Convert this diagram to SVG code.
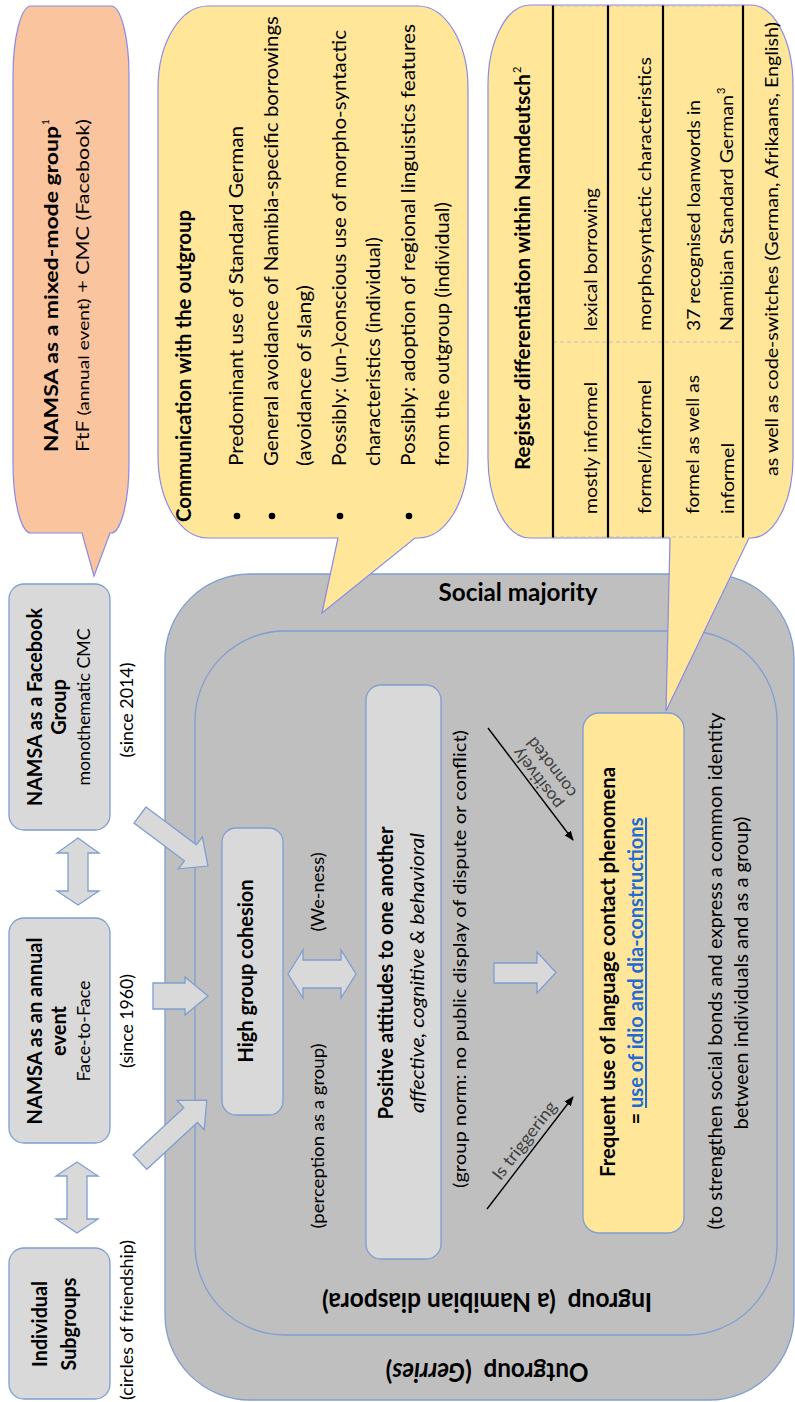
<svg xmlns="http://www.w3.org/2000/svg" width="795" height="1402" viewBox="0 0 795 1402">
<defs>
<style>
text { font-family: Lato, "Open Sans", "Liberation Sans", sans-serif; fill:#000; }
.b { font-weight:700; }
.it { font-style:italic; }
.box { fill:#D9D9D9; stroke:#7F9ED1; stroke-width:1.3; }
.grp { fill:#BFBFBF; stroke:#7F9ED1; stroke-width:1.3; }
.yel { fill:#FFE699; stroke:#8A8AE6; stroke-width:1.2; }
.org { fill:#F9C49E; stroke:#8A8AE6; stroke-width:1.2; }
.fre { fill:#FFE699; stroke:#7F9ED1; stroke-width:1.3; }
.blk { fill:#D9D9D9; stroke:#7F9ED1; stroke-width:1.3; }
.ln { stroke:#000; stroke-width:1.4; fill:none; marker-end:url(#ah); }
.tl { stroke:#000; stroke-width:2.2; }
.dl { stroke:#BDBDBD; stroke-width:1; stroke-dasharray:4 3; }
.gt { fill:#404040; }
.lnk { fill:#1F6BD6; text-decoration:underline; }
</style>
<marker id="ah" viewBox="0 0 10 10" refX="9" refY="5" markerWidth="7" markerHeight="7" orient="auto"><path d="M0,1 L10,5 L0,9 z" fill="#000"/></marker>
</defs>

<g id="outgroup">
<rect class="grp" x="165" y="574" width="629" height="826" rx="85" ry="85"/>
<text class="b" font-size="23" text-anchor="middle" transform="translate(487,1363) scale(1,1.12) rotate(180)" textLength="203" lengthAdjust="spacingAndGlyphs">Outgroup&#160; (<tspan class="it">Gerries</tspan>)</text>
<text class="b" font-size="24" text-anchor="middle" x="518" y="601" textLength="159" lengthAdjust="spacingAndGlyphs">Social majority</text>
</g>

<g id="ingroup">
<rect class="grp" x="195" y="631" width="582" height="704" rx="90" ry="90"/>
<text class="b" font-size="23" text-anchor="middle" transform="translate(487,1293) scale(1,1.12) rotate(180)" textLength="330" lengthAdjust="spacingAndGlyphs">Ingroup&#160; (a Namibian diaspora)</text>
</g>

<g id="callout-mixed">
<path class="org" d="M31,6 H111 A18 70 0 0 1 129,76 V463 A18 70 0 0 1 111,533 H110 L94,576 L82,533 H31 A18 70 0 0 1 13,463 V76 A18 70 0 0 1 31,6 Z"/>
<text class="b" font-size="18.5" transform="translate(58,452) rotate(-90)" textLength="326" lengthAdjust="spacingAndGlyphs">NAMSA as a mixed-mode group</text>
<text font-size="10" transform="translate(49,125) rotate(-90)">1</text>
<text font-size="18" transform="translate(89,452) rotate(-90)" textLength="333" lengthAdjust="spacingAndGlyphs">FtF <tspan font-size="16">(annual event)</tspan> + CMC (Facebook)</text>
</g>

<g id="callout-outgroup">
<path class="yel" d="M208,6 H418 A50 82 0 0 1 468,88 V456 A50 82 0 0 1 418,538 H415 L322,613 L338,538 H208 A50 82 0 0 1 158,456 V88 A50 82 0 0 1 208,6 Z"/>
<text class="b" font-size="20" transform="translate(191,522) rotate(-90)" textLength="312" lengthAdjust="spacingAndGlyphs">Communication with the outgroup</text>
<circle cx="237" cy="516" r="3.3"/>
<circle cx="272" cy="516" r="3.3"/>
<circle cx="340" cy="516" r="3.3"/>
<circle cx="409" cy="516" r="3.3"/>
<text font-size="18.5" transform="translate(243,466) rotate(-90)" textLength="340" lengthAdjust="spacingAndGlyphs">Predominant use of Standard German</text>
<text font-size="18.5" transform="translate(278,466) rotate(-90)" textLength="450" lengthAdjust="spacingAndGlyphs">General avoidance of Namibia-specific borrowings</text>
<text font-size="18.5" transform="translate(311,466) rotate(-90)" textLength="181" lengthAdjust="spacingAndGlyphs">(avoidance of slang)</text>
<text font-size="18.5" transform="translate(346,466) rotate(-90)" textLength="436" lengthAdjust="spacingAndGlyphs">Possibly: (un-)conscious use of morpho-syntactic</text>
<text font-size="18.5" transform="translate(380,466) rotate(-90)" textLength="229" lengthAdjust="spacingAndGlyphs">characteristics (individual)</text>
<text font-size="18.5" transform="translate(415,466) rotate(-90)" textLength="442" lengthAdjust="spacingAndGlyphs">Possibly: adoption of regional linguistics features</text>
<text font-size="18.5" transform="translate(449,466) rotate(-90)" textLength="264" lengthAdjust="spacingAndGlyphs">from the outgroup (individual)</text>
</g>

<g id="callout-register">
<path class="yel" d="M530,5 H751 A42 80 0 0 1 793,85 V458 A42 80 0 0 1 751,538 H749 L666,711 L670,538 H530 A42 80 0 0 1 488,458 V85 A42 80 0 0 1 530,5 Z"/>
<line class="dl" x1="553" y1="6" x2="743" y2="6"/>
<line class="dl" x1="553" y1="342" x2="743" y2="342"/>
<line class="dl" x1="553" y1="537" x2="743" y2="537"/>
<line class="tl" x1="553" y1="5.5" x2="553" y2="537.5"/>
<line class="tl" x1="608" y1="5.5" x2="608" y2="537.5"/>
<line class="tl" x1="663" y1="5.5" x2="663" y2="537.5"/>
<line class="tl" x1="743" y1="5.5" x2="743" y2="537.5"/>
<text class="b" font-size="20" transform="translate(530,470) rotate(-90)" textLength="396" lengthAdjust="spacingAndGlyphs">Register differentiation within Namdeutsch</text>
<text font-size="11" transform="translate(521,73) rotate(-90)">2</text>
<text font-size="18" transform="translate(597,514) rotate(-90)" textLength="132" lengthAdjust="spacingAndGlyphs">mostly informel</text>
<text font-size="18" transform="translate(597,331) rotate(-90)" textLength="143" lengthAdjust="spacingAndGlyphs">lexical borrowing</text>
<text font-size="18" transform="translate(651,514) rotate(-90)" textLength="134" lengthAdjust="spacingAndGlyphs">formel/informel</text>
<text font-size="18" transform="translate(651,331) rotate(-90)" textLength="274" lengthAdjust="spacingAndGlyphs">morphosyntactic characteristics</text>
<text font-size="18" transform="translate(699,514) rotate(-90)" textLength="139" lengthAdjust="spacingAndGlyphs">formel as well as</text>
<text font-size="18" transform="translate(734,514) rotate(-90)" textLength="71" lengthAdjust="spacingAndGlyphs">informel</text>
<text font-size="18" transform="translate(700,331) rotate(-90)" textLength="231" lengthAdjust="spacingAndGlyphs">37 recognised loanwords in</text>
<text font-size="18" transform="translate(733,331) rotate(-90)" textLength="236" lengthAdjust="spacingAndGlyphs">Namibian Standard German</text>
<text font-size="11" transform="translate(725,94) rotate(-90)">3</text>
<text font-size="16.5" transform="translate(778,476) rotate(-90)" textLength="454" lengthAdjust="spacingAndGlyphs">as well as code-switches (German, Afrikaans, English)</text>
</g>

<g id="box-facebook">
<rect class="box" x="9" y="584" width="101" height="246" rx="15" ry="15"/>
<text class="b" font-size="20" text-anchor="middle" transform="translate(42,707) rotate(-90)" textLength="198" lengthAdjust="spacingAndGlyphs">NAMSA as a Facebook</text>
<text class="b" font-size="20" text-anchor="middle" transform="translate(66,707) rotate(-90)">Group</text>
<text font-size="18" text-anchor="middle" transform="translate(90,707) rotate(-90)" textLength="157" lengthAdjust="spacingAndGlyphs">monothematic CMC</text>
</g>

<g id="box-annual">
<rect class="box" x="9" y="918" width="101" height="225" rx="15" ry="15"/>
<text class="b" font-size="20" text-anchor="middle" transform="translate(42,1031) rotate(-90)" textLength="187" lengthAdjust="spacingAndGlyphs">NAMSA as an annual</text>
<text class="b" font-size="20" text-anchor="middle" transform="translate(66,1031) rotate(-90)">event</text>
<text font-size="18" text-anchor="middle" transform="translate(90,1031) rotate(-90)" textLength="101" lengthAdjust="spacingAndGlyphs">Face-to-Face</text>
</g>

<g id="box-subgroups">
<rect class="box" x="9" y="1248" width="101" height="151" rx="15" ry="15"/>
<text class="b" font-size="20" text-anchor="middle" transform="translate(47,1324) rotate(-90)" textLength="86" lengthAdjust="spacingAndGlyphs">Individual</text>
<text class="b" font-size="20" text-anchor="middle" transform="translate(76,1324) rotate(-90)" textLength="93" lengthAdjust="spacingAndGlyphs">Subgroups</text>
</g>

<g id="labels">
<text font-size="17.5" text-anchor="middle" transform="translate(133,1320) rotate(-90)" textLength="160" lengthAdjust="spacingAndGlyphs">(circles of friendship)</text>
<text font-size="17.5" text-anchor="middle" transform="translate(133,1021) rotate(-90)" textLength="94" lengthAdjust="spacingAndGlyphs">(since 1960)</text>
<text font-size="17.5" text-anchor="middle" transform="translate(133,710) rotate(-90)" textLength="95" lengthAdjust="spacingAndGlyphs">(since 2014)</text>
<text font-size="17.5" text-anchor="middle" transform="translate(324,892) rotate(-90)" textLength="79" lengthAdjust="spacingAndGlyphs">(We-ness)</text>
<text font-size="17.5" text-anchor="middle" transform="translate(324,1136) rotate(-90)" textLength="185" lengthAdjust="spacingAndGlyphs">(perception as a group)</text>
<text font-size="18" text-anchor="middle" transform="translate(466,959) rotate(-90)" textLength="458" lengthAdjust="spacingAndGlyphs">(group norm: no public display of dispute or conflict)</text>
<text font-size="19" text-anchor="middle" transform="translate(722,971) rotate(-90)" textLength="517" lengthAdjust="spacingAndGlyphs">(to strengthen social bonds and express a common identity</text>
<text font-size="19" text-anchor="middle" transform="translate(748,973) rotate(-90)" textLength="313" lengthAdjust="spacingAndGlyphs">between individuals and as a group)</text>
</g>

<g id="box-cohesion">
<rect class="box" x="222" y="828" width="61" height="287" rx="14" ry="14"/>
<text class="b" font-size="20.5" text-anchor="middle" transform="translate(253,971) rotate(-90)" textLength="183" lengthAdjust="spacingAndGlyphs">High group cohesion</text>
</g>

<g id="box-attitudes">
<rect class="box" x="366" y="685" width="75" height="574" rx="15" ry="15"/>
<text class="b" font-size="20.5" text-anchor="middle" transform="translate(393,973) rotate(-90)" textLength="293" lengthAdjust="spacingAndGlyphs">Positive attitudes to one another</text>
<text class="it" font-size="19" text-anchor="middle" transform="translate(424,973) rotate(-90)" textLength="280" lengthAdjust="spacingAndGlyphs">affective, cognitive &amp; behavioral</text>
</g>

<g id="box-frequent">
<rect class="fre" x="583" y="713" width="101" height="520" rx="16" ry="16"/>
<text class="b" font-size="20.5" text-anchor="middle" transform="translate(615,972) rotate(-90)" textLength="410" lengthAdjust="spacingAndGlyphs">Frequent use of language contact phenomena</text>
<text class="b" font-size="20.5" text-anchor="middle" transform="translate(643,971) rotate(-90)" textLength="307" lengthAdjust="spacingAndGlyphs">= <tspan class="lnk">use of idio and dia-constructions</tspan></text>
</g>

<g id="connectors">
<path class="blk" d="M78,838 L99,853 L88,853 L88,891 L99,891 L78,905 L57,891 L68,891 L68,853 L57,853 Z"/>
<path class="blk" d="M77,1162 L98,1176 L87,1176 L87,1219 L98,1219 L77,1233 L56,1219 L67,1219 L67,1176 L56,1176 Z"/>
<path class="blk" d="M0,-10 L63,-10 L63,-20 L85,0 L63,20 L63,10 L0,10 Z" transform="translate(140,815) rotate(36.9)"/>
<path class="blk" d="M153,983 L185,983 L185,977 L208,996 L185,1015 L185,1009 L153,1009 Z"/>
<path class="blk" d="M0,-10 L69,-10 L69,-20 L91,0 L69,20 L69,10 L0,10 Z" transform="translate(140,1162) rotate(-42.8)"/>
<path class="blk" d="M288,974 L303,950 L303,960 L341,960 L341,950 L356,974 L341,998 L341,988 L303,988 L303,998 Z"/>
<path class="blk" d="M494,963 L537,963 L537,952 L556,972.5 L537,993 L537,983 L494,983 Z"/>
<line class="ln" x1="487" y1="1209" x2="573" y2="1097"/>
<line class="ln" x1="488" y1="728" x2="573" y2="840"/>
<text class="gt" font-size="17" text-anchor="middle" transform="translate(529,1144) rotate(-52.5)" textLength="94" lengthAdjust="spacingAndGlyphs">Is triggering</text>
<text class="gt" font-size="17" text-anchor="middle" transform="translate(542,775) rotate(-127.2)">positively</text>
<text class="gt" font-size="17" text-anchor="middle" transform="translate(556,764) rotate(-127.2)">connoted</text>
</g>
</svg>
